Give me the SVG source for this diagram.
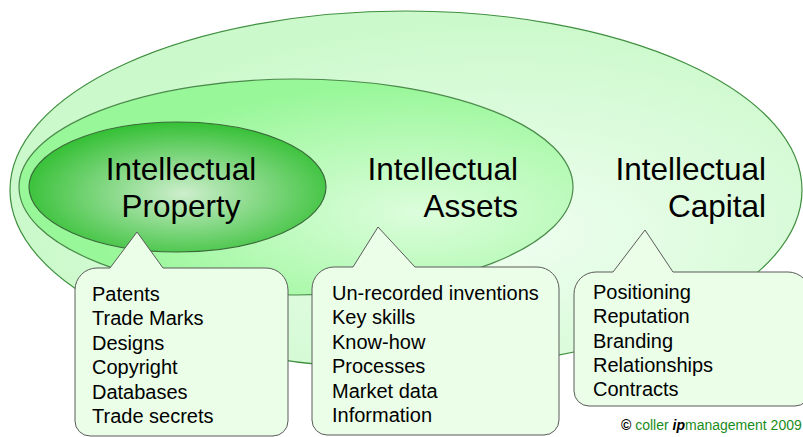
<svg xmlns="http://www.w3.org/2000/svg" width="803" height="437" viewBox="0 0 803 437">
<defs>
<radialGradient id="gOuter" cx="0.62" cy="0.62" r="0.6">
<stop offset="0" stop-color="#effef0"/>
<stop offset="1" stop-color="#cbf9cb"/>
</radialGradient>
<radialGradient id="gMid" cx="0.72" cy="0.62" r="0.6">
<stop offset="0" stop-color="#dcfddc"/>
<stop offset="1" stop-color="#98f798"/>
</radialGradient>
<radialGradient id="gIP" cx="0.52" cy="0.55" r="0.55">
<stop offset="0" stop-color="#cdeecd"/>
<stop offset="1" stop-color="#35c035"/>
</radialGradient>
<style>
.big{font-family:"Liberation Sans",Arial,sans-serif;font-size:31.5px;fill:#000}
.item{font-family:"Liberation Sans",Arial,sans-serif;font-size:20px;fill:#000}
.callout{fill:#eafee8;stroke:#5a5a5a;stroke-width:1}
.copy{font-family:"Liberation Sans",Arial,sans-serif;font-size:14px;fill:#1a8c1a}
</style>
</defs>
<g id="capital">
<ellipse cx="406" cy="190" rx="396" ry="179" fill="url(#gOuter)" stroke="#3f8f3f" stroke-width="1.2"/>
</g>
<g id="assets">
<ellipse cx="296" cy="187" rx="277" ry="108" fill="url(#gMid)" stroke="#4a8a4a" stroke-width="1.2"/>
</g>
<g id="property">
<ellipse cx="177.5" cy="187" rx="148.5" ry="65" fill="url(#gIP)" stroke="#3a6a3a" stroke-width="1.2"/>
<text class="big" x="181" y="180" text-anchor="middle">Intellectual</text>
<text class="big" x="181" y="217" text-anchor="middle">Property</text>
</g>
<g id="assets-label">
<text class="big" x="518" y="180" text-anchor="end">Intellectual</text>
<text class="big" x="518" y="217" text-anchor="end">Assets</text>
</g>
<g id="capital-label">
<text class="big" x="766" y="180" text-anchor="end">Intellectual</text>
<text class="big" x="766" y="217" text-anchor="end">Capital</text>
</g>
<g id="callout-property">
<path class="callout" d="M97,268 L110,268 L137,232 L163,268 L266,268 A22,22 0 0 1 288,290 L288,421 A15,15 0 0 1 273,436 L90,436 A15,15 0 0 1 75,421 L75,290 A22,22 0 0 1 97,268 Z"/>
<text class="item" x="92" y="301">Patents</text>
<text class="item" x="92" y="325.4">Trade Marks</text>
<text class="item" x="92" y="349.8">Designs</text>
<text class="item" x="92" y="374.2">Copyright</text>
<text class="item" x="92" y="398.6">Databases</text>
<text class="item" x="92" y="423">Trade secrets</text>
</g>
<g id="callout-assets">
<path class="callout" d="M334,267 L353,267 L378,227 L415,267 L537,267 A22,22 0 0 1 559,289 L559,420 A15,15 0 0 1 544,435 L327,435 A15,15 0 0 1 312,420 L312,289 A22,22 0 0 1 334,267 Z"/>
<text class="item" x="332" y="300">Un-recorded inventions</text>
<text class="item" x="332" y="324.4">Key skills</text>
<text class="item" x="332" y="348.8">Know-how</text>
<text class="item" x="332" y="373.2">Processes</text>
<text class="item" x="332" y="397.6">Market data</text>
<text class="item" x="332" y="422">Information</text>
</g>
<g id="callout-capital">
<path class="callout" d="M596,272 L613,272 L645,230 L673,272 L788,272 A22,22 0 0 1 810,294 L810,391 A15,15 0 0 1 795,406 L589,406 A15,15 0 0 1 574,391 L574,294 A22,22 0 0 1 596,272 Z"/>
<text class="item" x="593" y="299">Positioning</text>
<text class="item" x="593" y="323.3">Reputation</text>
<text class="item" x="593" y="347.6">Branding</text>
<text class="item" x="593" y="371.9">Relationships</text>
<text class="item" x="593" y="396.2">Contracts</text>
</g>
<g id="copyright">
<text class="copy" x="621" y="430"><tspan fill="#000" font-weight="bold">©</tspan> coller <tspan fill="#000" font-weight="bold" font-style="italic">ip</tspan>management 2009</text>
</g>
</svg>
